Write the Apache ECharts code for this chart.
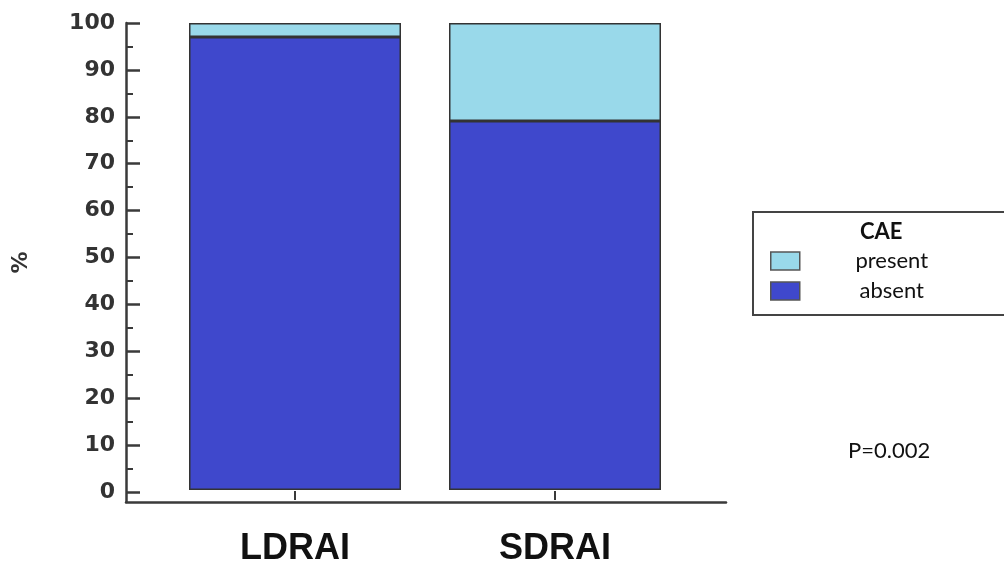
<!DOCTYPE html>
<html>
<head>
<meta charset="utf-8">
<script src="https://cdn.jsdelivr.net/npm/echarts@6/dist/echarts.min.js"></script>
<style>
  html, body { margin: 0; padding: 0; background: #ffffff; }
  #chart { width: 1004px; height: 567px; }
</style>
</head>
<body>
<div id="chart"></div>
<script>
// Share of CAE (present / absent) by group, in percent
const categories = ['LDRAI', 'SDRAI'];
const absentValues = [97, 79];
const presentValues = [3, 21];
const majorTicks = [0, 10, 20, 30, 40, 50, 60, 70, 80, 90, 100];
const minorTicks = [5, 15, 25, 35, 45, 55, 65, 75, 85, 95];
const legendTitle = 'CAE';
const pValueText = 'P=0.002';

const axisColor = '#3a3a3a';
const colorAbsent = '#3f48cc';
const colorPresent = '#99d9ea';
// the value axis starts a little above the category axis line
const yMin = -2.13;
const yMax = 100;

const chart = echarts.init(document.getElementById('chart'), null, { renderer: 'canvas' });

chart.setOption({
  animation: false,
  backgroundColor: '#ffffff',
  grid: [
    { left: 126, top: 23, width: 600, height: 479 },
    { left: 165, top: 23, width: 520, height: 479 }
  ],
  xAxis: [
    {
      // long baseline of the plot
      gridIndex: 0, type: 'value', min: 0, max: 1,
      axisLine: { show: true, onZero: false, lineStyle: { color: axisColor, width: 2.5 } },
      axisTick: { show: false }, axisLabel: { show: false }, splitLine: { show: false }
    },
    {
      gridIndex: 1, type: 'category', data: categories,
      axisLine: { show: false, onZero: false },
      axisTick: { show: true, inside: true, length: 9, alignWithLabel: true,
        lineStyle: { color: axisColor, width: 2 } },
      axisLabel: { margin: 31, fontFamily: 'Liberation Sans, Arial, sans-serif',
        fontWeight: 'bold', fontSize: 36, color: '#111111' },
      splitLine: { show: false }
    }
  ],
  yAxis: [
    {
      gridIndex: 0, type: 'value', min: yMin, max: yMax, position: 'left',
      name: '%', nameLocation: 'middle', nameGap: 94, nameRotate: 90,
      nameTextStyle: { fontFamily: 'DejaVu Sans, sans-serif', fontWeight: 'bold',
        fontSize: 22, color: '#333333' },
      axisLine: { show: true, onZero: false, lineStyle: { color: axisColor, width: 2.5 } },
      axisTick: { show: true, inside: true, length: 14, customValues: majorTicks,
        lineStyle: { color: axisColor, width: 2.5 } },
      axisLabel: { show: true, customValues: majorTicks, margin: 11,
        fontFamily: 'DejaVu Sans, sans-serif', fontWeight: 'bold', fontSize: 22, color: '#333333' },
      splitLine: { show: false }
    },
    {
      // minor ticks
      gridIndex: 0, type: 'value', min: yMin, max: yMax, position: 'left',
      axisLine: { show: false, onZero: false },
      axisTick: { show: true, inside: true, length: 7, customValues: minorTicks,
        lineStyle: { color: axisColor, width: 2 } },
      axisLabel: { show: false },
      splitLine: { show: false }
    },
    {
      gridIndex: 1, type: 'value', min: yMin, max: yMax, show: false,
      splitLine: { show: false }
    }
  ],
  legend: {
    data: ['present', 'absent'],
    orient: 'vertical',
    left: 753, top: 212,
    padding: [38, 30, 13, 17],
    borderColor: '#444444', borderWidth: 2,
    itemWidth: 29, itemHeight: 18, itemGap: 8,
    icon: 'rect',
    itemStyle: { borderColor: '#555555', borderWidth: 1.5 },
    formatter: function (name) { return '{t|' + name + '}'; },
    textStyle: {
      rich: {
        t: { width: 174, align: 'center', fontFamily: 'Lato, sans-serif',
          fontSize: 22, lineHeight: 20, color: '#111111' }
      }
    }
  },
  graphic: [
    { type: 'text', left: 860, top: 221,
      style: { text: legendTitle, fontFamily: 'Lato, sans-serif', fontWeight: 'bold',
        fontSize: 22, fill: '#111111' } },
    { type: 'text', left: 848, top: 440,
      style: { text: pValueText, fontFamily: 'Lato, sans-serif',
        fontSize: 22, fill: '#111111' } }
  ],
  series: [
    {
      name: 'absent', type: 'bar', stack: 'cae', xAxisIndex: 1, yAxisIndex: 2,
      data: absentValues, barWidth: 212,
      itemStyle: { color: colorAbsent, borderColor: '#333333', borderWidth: 1.5 }
    },
    {
      name: 'present', type: 'bar', stack: 'cae', xAxisIndex: 1, yAxisIndex: 2,
      data: presentValues, barWidth: 212,
      itemStyle: { color: colorPresent, borderColor: '#333333', borderWidth: 1.5 }
    }
  ]
});
</script>
</body>
</html>
